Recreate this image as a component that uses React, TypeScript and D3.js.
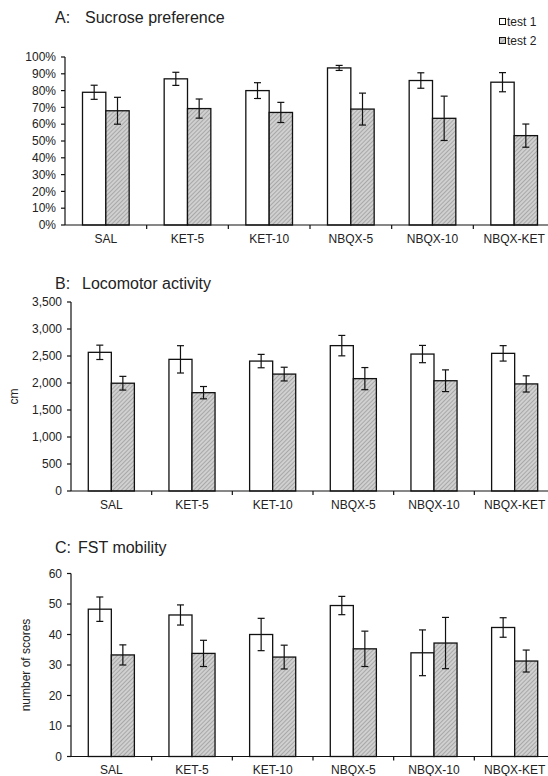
import React from 'react';
import * as d3 from 'd3';

const categories = ['SAL', 'KET-5', 'KET-10', 'NBQX-5', 'NBQX-10', 'NBQX-KET'];
const seriesNames = ['test 1', 'test 2'];

const sucroseTest1 = [79, 87, 80, 93.5, 86, 85];
const sucroseTest1Err = [4.2, 3.9, 4.7, 1.5, 4.6, 5.7];
const sucroseTest2 = [68, 69.3, 67, 69, 63.5, 53.2];
const sucroseTest2Err = [8, 5.7, 6, 9.5, 13.2, 6.9];
const sucroseTicks = [0, 10, 20, 30, 40, 50, 60, 70, 80, 90, 100];

const locoTest1 = [2568, 2438, 2406, 2692, 2536, 2549];
const locoTest1Err = [133, 253, 124, 189, 160, 143];
const locoTest2 = [1996, 1821, 2165, 2081, 2042, 1983];
const locoTest2Err = [127, 114, 127, 205, 201, 150];
const locoTicks = [0, 500, 1000, 1500, 2000, 2500, 3000, 3500];

const fstTest1 = [48.3, 46.4, 40, 49.5, 34, 42.3];
const fstTest1Err = [4, 3.3, 5.3, 3, 7.5, 3.2];
const fstTest2 = [33.3, 33.8, 32.6, 35.3, 37.2, 31.3];
const fstTest2Err = [3.3, 4.3, 3.9, 5.8, 8.4, 3.6];
const fstTicks = [0, 10, 20, 30, 40, 50, 60];

const FONT = "'Liberation Sans', Arial, sans-serif";

type PanelProps = {
  letter: string;
  title: string;
  titleY: number;
  titleTextX: number;
  left: number;
  right: number;
  top: number;
  bottom: number;
  yMax: number;
  ticks: number[];
  fmt: (v: number) => string;
  t1: number[];
  e1: number[];
  t2: number[];
  e2: number[];
  yLabel?: string;
  yLabelX?: number;
};

function Panel(p: PanelProps) {
  const x = d3
    .scaleBand<string>()
    .domain(categories)
    .range([p.left, p.right])
    .paddingInner(1.5 / 3.5)
    .paddingOuter(0.75 / 3.5);
  const xs = d3.scaleBand<string>().domain(seriesNames).range([0, x.bandwidth()]);
  const y = d3.scaleLinear().domain([0, p.yMax]).range([p.bottom, p.top]);
  const step = x.step();
  const bw = xs.bandwidth();
  const series = [
    { name: 'test 1', vals: p.t1, errs: p.e1, fill: '#ffffff' },
    { name: 'test 2', vals: p.t2, errs: p.e2, fill: 'url(#hatch)' },
  ];
  return (
    <g>
      <text x={55} y={p.titleY} fontSize={16} fontFamily={FONT} fill="#222">
        {p.letter}
      </text>
      <text x={p.titleTextX} y={p.titleY} fontSize={16} fontFamily={FONT} fill="#222">
        {p.title}
      </text>
      {p.yLabel && (
        <text
          transform={`translate(${p.yLabelX},${(p.top + p.bottom) / 2}) rotate(-90)`}
          textAnchor="middle"
          fontSize={12}
          fontFamily={FONT}
          fill="#222"
        >
          {p.yLabel}
        </text>
      )}
      {series.map((s) =>
        categories.map((c, i) => {
          const bx = (x(c) as number) + (xs(s.name) as number);
          const v = s.vals[i];
          return (
            <rect
              key={s.name + c}
              x={bx}
              y={y(v)}
              width={bw}
              height={y(0) - y(v)}
              fill={s.fill}
              stroke="#111"
              strokeWidth={1.3}
            />
          );
        })
      )}
      {series.map((s) =>
        categories.map((c, i) => {
          const cx = (x(c) as number) + (xs(s.name) as number) + bw / 2;
          const hi = y(s.vals[i] + s.errs[i]);
          const lo = y(s.vals[i] - s.errs[i]);
          return (
            <g key={'e' + s.name + c} stroke="#111" strokeWidth={1.2}>
              <line x1={cx} x2={cx} y1={hi} y2={lo} />
              <line x1={cx - 3.5} x2={cx + 3.5} y1={hi} y2={hi} />
              <line x1={cx - 3.5} x2={cx + 3.5} y1={lo} y2={lo} />
            </g>
          );
        })
      )}
      <line x1={p.left} x2={p.left} y1={p.top} y2={p.bottom} stroke="#111" strokeWidth={1.2} />
      {p.ticks.map((t) => (
        <g key={'yt' + t}>
          <line x1={p.left - 4} x2={p.left} y1={y(t)} y2={y(t)} stroke="#111" strokeWidth={1.2} />
          <text
            x={p.left - 9}
            y={y(t)}
            dy="0.35em"
            textAnchor="end"
            fontSize={12}
            fontFamily={FONT}
            fill="#222"
          >
            {p.fmt(t)}
          </text>
        </g>
      ))}
      <line x1={p.left} x2={560} y1={p.bottom} y2={p.bottom} stroke="#111" strokeWidth={1.2} />
      {categories.map((c, i) => (
        <line
          key={'xt' + c}
          x1={p.left + step * (i + 1)}
          x2={p.left + step * (i + 1)}
          y1={p.bottom}
          y2={p.bottom + 4}
          stroke="#111"
          strokeWidth={1.2}
        />
      ))}
      {categories.map((c) => (
        <text
          key={'xl' + c}
          x={(x(c) as number) + x.bandwidth() / 2}
          y={p.bottom + 17.5}
          textAnchor="middle"
          fontSize={12}
          fontFamily={FONT}
          fill="#222"
        >
          {c}
        </text>
      ))}
    </g>
  );
}

export default function App() {
  const pct = (v: number) => `${v}%`;
  const comma = d3.format(',');
  return (
    <svg
      width={548}
      height={776}
      style={{ position: 'absolute', left: 0, top: 0, display: 'block', background: '#fff' }}
    >
      <defs>
        <pattern id="hatch" patternUnits="userSpaceOnUse" width={3} height={3} patternTransform="rotate(45)">
          <rect width={3} height={3} fill="#d0d0d0" />
          <line x1={0} y1={0} x2={0} y2={3} stroke="#808080" strokeWidth={1} />
        </pattern>
      </defs>
      <rect x={0} y={0} width={548} height={776} fill="#fff" />
      <Panel
        letter="A:"
        title="Sucrose preference"
        titleY={23}
        titleTextX={85}
        left={65}
        right={555}
        top={57}
        bottom={225}
        yMax={100}
        ticks={sucroseTicks}
        fmt={pct}
        t1={sucroseTest1}
        e1={sucroseTest1Err}
        t2={sucroseTest2}
        e2={sucroseTest2Err}
      />
      <Panel
        letter="B:"
        title="Locomotor activity"
        titleY={289}
        titleTextX={82}
        left={71}
        right={555}
        top={302}
        bottom={491}
        yMax={3500}
        ticks={locoTicks}
        fmt={(v) => comma(v)}
        t1={locoTest1}
        e1={locoTest1Err}
        t2={locoTest2}
        e2={locoTest2Err}
        yLabel="cm"
        yLabelX={18}
      />
      <Panel
        letter="C:"
        title="FST mobility"
        titleY={553}
        titleTextX={78}
        left={71}
        right={555}
        top={573.5}
        bottom={756.5}
        yMax={60}
        ticks={fstTicks}
        fmt={(v) => String(v)}
        t1={fstTest1}
        e1={fstTest1Err}
        t2={fstTest2}
        e2={fstTest2Err}
        yLabel="number of scores"
        yLabelX={30}
      />
      <g fontFamily={FONT} fontSize={12} fill="#222">
        <rect x={499.5} y={18.5} width={6} height={6} fill="#fff" stroke="#111" strokeWidth={1} />
        <text x={507} y={26}>test 1</text>
        <rect x={499.5} y={37.5} width={6} height={6} fill="url(#hatch)" stroke="#111" strokeWidth={1} />
        <text x={507} y={45}>test 2</text>
      </g>
    </svg>
  );
}
